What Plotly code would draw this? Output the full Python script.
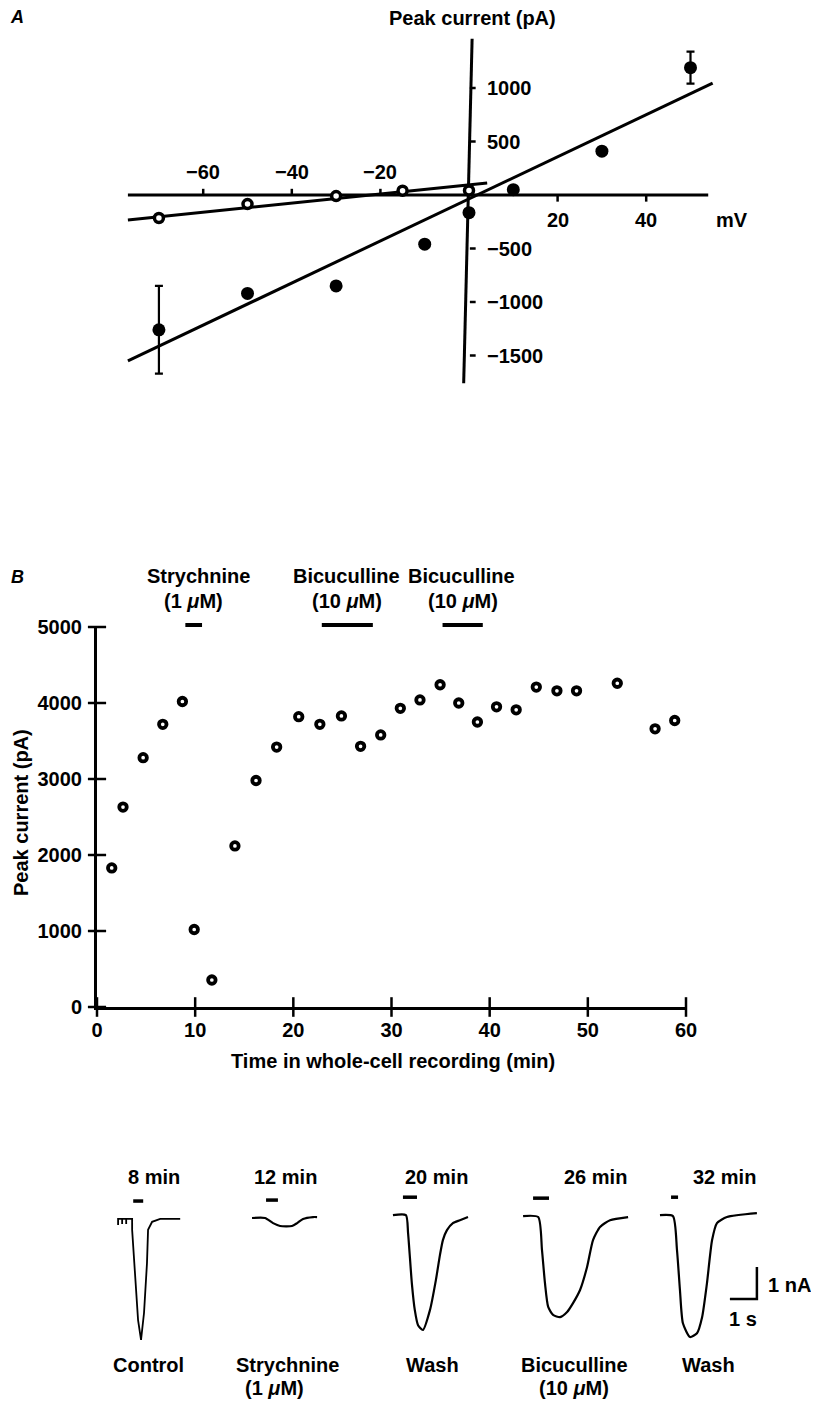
import plotly.graph_objects as go

FONT = "Liberation Sans, Arial, Helvetica, sans-serif"
W, H = 819, 1401          # target picture size
OFF = 8                   # page body margin around the plot div
FW, FH = W - OFF, H - OFF # figure size

# ---------------- Panel A: I-V relation ----------------
iv_mv_closed = [-70, -50, -30, -10, 0, 10, 30, 50]
iv_pa_closed = [-1260, -920, -850, -460, -165, 50, 410, 1190]
iv_err_closed = [410, 0, 0, 0, 0, 0, 0, 150]
iv_mv_open = [-70, -50, -30, -15, 0]
iv_pa_open = [-215, -85, -10, 40, 42]
fit_closed_mv = [-77, 55]
fit_closed_pa = [-1550, 1045]
fit_open_mv = [-77, 4.1]
fit_open_pa = [-234, 112]
a_xticks_neg = [-60, -40, -20]
a_xticks_pos = [20, 40]
a_yticks = [1000, 500, -500, -1000, -1500]
a_xaxis_span = [-77, 54]
a_yaxis_x = [0.7, -1.2]
a_yaxis_y = [1460, -1760]

# ---------------- Panel B: time course ----------------
t_min = [1.5, 2.65, 4.7, 6.7, 8.7, 9.9, 11.7, 14.05, 16.2, 18.3, 20.55, 22.7,
         24.9, 26.85, 28.9, 30.9, 32.9, 34.95, 36.85, 38.75, 40.7, 42.7, 44.75,
         46.85, 48.85, 53.0, 56.85, 58.85]
peak_pa = [1830, 2630, 3280, 3720, 4020, 1020, 355, 2120, 2980, 3420, 3820, 3720,
           3830, 3430, 3580, 3930, 4040, 4240, 4000, 3750, 3950, 3910, 4210,
           4160, 4160, 4260, 3660, 3770]
b_xticks = [0, 10, 20, 30, 40, 50, 60]
b_yticks = [0, 1000, 2000, 3000, 4000, 5000]
drug_names = ["Strychnine", "Bicuculline", "Bicuculline"]
drug_conc = ["(1 <i>μ</i>M)", "(10 <i>μ</i>M)", "(10 <i>μ</i>M)"]
drug_on_min = [9.0, 22.9, 35.2]
drug_off_min = [10.7, 28.1, 39.3]

# ---------------- Panel C: current traces (s, nA) ----------------
ctrl_t = [0, 0, 0, 0.15, 0.15, 0.15, 0.30, 0.30, 0.30, 0.52, 0.52, 0.74, 0.85,
          0.96, 1.07, 1.11, 1.26, 1.56, 2.30]
ctrl_i = [0, -0.19, 0, 0, -0.16, 0, 0, -0.16, 0, 0, -0.34, -3.16, -3.78,
          -2.94, -1.38, -0.34, -0.09, 0, 0]
strych_t = [0, 0.48, 0.78, 1.04, 1.48, 1.67, 1.89, 2.26, 2.41]
strych_i = [0, 0, -0.16, -0.25, -0.25, -0.16, -0.03, 0.03, 0.03]
wash1_t = [0, 0.48, 0.56, 0.70, 0.81, 0.93, 1.11, 1.37, 1.59, 1.74, 1.85, 2.0,
           2.22, 2.48, 2.78]
wash1_i = [0, 0, -0.56, -2.13, -2.97, -3.44, -3.59, -2.97, -2.03, -1.25, -0.78,
           -0.47, -0.25, -0.16, -0.06]
bicuc_t = [0, 0.56, 0.70, 0.81, 0.93, 1.11, 1.37, 1.63, 1.85, 2.11, 2.37, 2.59,
           2.85, 3.22, 3.89]
bicuc_i = [0, -0.03, -1.06, -2.09, -2.84, -3.09, -3.16, -3.0, -2.72, -2.31,
           -1.59, -0.75, -0.34, -0.13, -0.03]
wash2_t = [0, 0.48, 0.63, 0.74, 0.85, 1.11, 1.37, 1.56, 1.74, 1.93, 2.11, 2.48,
           3.59]
wash2_i = [0, -0.03, -1.09, -2.34, -3.38, -3.81, -3.69, -3.19, -2.13, -0.78,
           -0.25, -0.06, 0.06]
pulse_on_s = [0.56, 0.52, 0.37, 0.37, 0.41]
pulse_off_s = [0.93, 0.96, 0.89, 0.96, 0.67]
c_time_labels = ["8 min", "12 min", "20 min", "26 min", "32 min"]
c_cond_labels = ["Control", "Strychnine", "Wash", "Bicuculline", "Wash"]
c_cond_sub = ["", "(1 <i>μ</i>M)", "", "(10 <i>μ</i>M)", ""]
scalebar_s = 1.0
scalebar_nA = 1.0

# ---------------- layout / placement (not data) ----------------
c_offsets_s = [0.67, 5.63, 10.85, 15.67, 20.74]
c_baseline = [-0.03, 0.0, 0.09, 0.06, 0.09]
c_time_label_x = [2.0, 6.87, 12.48, 18.37, 23.13]
c_cond_x = [1.78, 6.96, 12.3, 17.59, 22.52]
c_sub_x = [1.78, 6.46, 12.3, 17.56, 22.52]
pulse_level = 0.56
scalebar_corner = (24.33, -2.53)

BLK = "black"
fig = go.Figure()


def pxx(px):
    """picture column -> paper x"""
    return (px - OFF) / FW


def py(pyx):
    """picture row -> paper y"""
    return 1 - (pyx - OFF) / FH


def ann(text, x, y, xref, yref, size=20, xanchor="center", **kw):
    fig.add_annotation(text=text, x=x, y=y, xref=xref, yref=yref, showarrow=False,
                       xanchor=xanchor, yanchor="middle",
                       font=dict(family=FONT, size=size, color=BLK, weight="bold"),
                       **kw)


# ---- Panel A ----
fig.add_trace(go.Scatter(x=a_xaxis_span, y=[0, 0], mode="lines",
                         line=dict(color=BLK, width=3), xaxis="x", yaxis="y"))
fig.add_trace(go.Scatter(x=a_yaxis_x, y=a_yaxis_y, mode="lines",
                         line=dict(color=BLK, width=3), xaxis="x", yaxis="y"))
tx, ty = [], []
for v in a_xticks_neg:
    tx += [v, v, None]; ty += [0, 58, None]
for v in a_xticks_pos:
    tx += [v, v, None]; ty += [0, -62, None]
for v in a_yticks:
    tx += [0.2, 1.5, None]; ty += [v, v, None]
fig.add_trace(go.Scatter(x=tx, y=ty, mode="lines", line=dict(color=BLK, width=2.5),
                         xaxis="x", yaxis="y"))
fig.add_trace(go.Scatter(x=fit_closed_mv, y=fit_closed_pa, mode="lines",
                         line=dict(color=BLK, width=3), xaxis="x", yaxis="y"))
fig.add_trace(go.Scatter(x=fit_open_mv, y=fit_open_pa, mode="lines",
                         line=dict(color=BLK, width=3), xaxis="x", yaxis="y"))
fig.add_trace(go.Scatter(x=iv_mv_open, y=iv_pa_open, mode="markers",
                         marker=dict(symbol="circle", size=9, color="white",
                                     line=dict(color=BLK, width=3.5)),
                         xaxis="x", yaxis="y", cliponaxis=False))
fig.add_trace(go.Scatter(x=iv_mv_closed, y=iv_pa_closed, mode="markers",
                         marker=dict(symbol="circle", size=13, color=BLK),
                         error_y=dict(type="data", array=iv_err_closed, visible=True,
                                      color=BLK, thickness=2.2, width=4),
                         xaxis="x", yaxis="y", cliponaxis=False))
for v in a_xticks_neg:
    ann(f"−{abs(v)}", v, 215, "x", "y")
for v in a_xticks_pos:
    ann(f"{v}", v, -234, "x", "y")
for v in a_yticks:
    ann(f"−{abs(v)}" if v < 0 else f"{v}", 3.6, v, "x", "y", xanchor="left")
ann("mV", 59.4, -234, "x", "y")
ann("Peak current (pA)", 0.7, py(18), "x", "paper")

# ---- Panel B ----
fig.add_trace(go.Scatter(x=t_min, y=peak_pa, mode="markers",
                         marker=dict(symbol="circle", size=7.5, color="white",
                                     line=dict(color=BLK, width=3.8)),
                         xaxis="x2", yaxis="y2", cliponaxis=False))
fig.add_trace(go.Scatter(x=b_xticks, y=[0] * len(b_xticks), mode="markers",
                         marker=dict(symbol="line-ns", size=14,
                                     line=dict(color=BLK, width=2.5)),
                         xaxis="x2", yaxis="y2", cliponaxis=False))
fig.add_trace(go.Scatter(x=[0] * len(b_yticks), y=b_yticks, mode="markers",
                         marker=dict(symbol="line-ew", size=13,
                                     line=dict(color=BLK, width=2.5)),
                         xaxis="x2", yaxis="y2", cliponaxis=False))
for name, conc, a, b in zip(drug_names, drug_conc, drug_on_min, drug_off_min):
    fig.add_shape(type="line", x0=a, x1=b, y0=py(625), y1=py(625), xref="x2",
                  yref="paper", line=dict(color=BLK, width=4))
    mid = (a + b) / 2
    ann(name, mid + 0.5 if name == "Strychnine" else mid - 0.1, py(576), "x2", "paper")
    ann(conc, mid, py(601), "x2", "paper")
ann("Peak current (pA)", pxx(21), py(813), "paper", "paper", textangle=-90)
ann("Time in whole-cell recording (min)", pxx(393), py(1061), "paper", "paper")

# ---- Panel C ----
traces = [(ctrl_t, ctrl_i, "linear", 1.8), (strych_t, strych_i, "spline", 2.2),
          (wash1_t, wash1_i, "spline", 2.2), (bicuc_t, bicuc_i, "spline", 2.2),
          (wash2_t, wash2_i, "spline", 2.2)]
for k, (tt, ii, shp, lw) in enumerate(traces):
    x0, y0 = c_offsets_s[k], c_baseline[k]
    fig.add_trace(go.Scatter(x=[x0 + t for t in tt], y=[y0 + i for i in ii],
                             mode="lines",
                             line=dict(color=BLK, width=lw, shape=shp,
                                       smoothing=0.6 if shp == "spline" else None),
                             xaxis="x3", yaxis="y3", cliponaxis=False))
px_, py_ = [], []
for k in range(5):
    x0, y0 = c_offsets_s[k], c_baseline[k]
    px_ += [x0 + pulse_on_s[k], x0 + pulse_off_s[k], None]
    py_ += [y0 + pulse_level, y0 + pulse_level, None]
fig.add_trace(go.Scatter(x=px_, y=py_, mode="lines", line=dict(color=BLK, width=3.5),
                         xaxis="x3", yaxis="y3", cliponaxis=False))
cx, cy = scalebar_corner
fig.add_trace(go.Scatter(x=[cx - scalebar_s, cx, cx], y=[cy, cy, cy + scalebar_nA],
                         mode="lines", line=dict(color=BLK, width=2.5),
                         xaxis="x3", yaxis="y3", cliponaxis=False))
for lab, x in zip(c_time_labels, c_time_label_x):
    ann(lab, x, 1.28, "x3", "y3")
for lab, sub, x, xs in zip(c_cond_labels, c_cond_sub, c_cond_x, c_sub_x):
    ann(lab, x, -4.59, "x3", "y3")
    if sub:
        ann(sub, xs, -5.31, "x3", "y3")
ann("1 nA", cx + 1.19, cy + scalebar_nA / 2 - 0.06, "x3", "y3")
ann("1 s", cx - scalebar_s / 2, cy - 0.63, "x3", "y3")

# panel letters
for letter, ypx in (("A", 17), ("B", 577)):
    fig.add_annotation(text=letter, x=pxx(17), y=py(ypx), xref="paper", yref="paper",
                       showarrow=False, xanchor="center", yanchor="middle",
                       font=dict(family=FONT, size=18, color=BLK, weight="bold",
                                 style="italic"))

hidden = dict(visible=False, showgrid=False, zeroline=False)
fig.update_layout(
    width=FW, height=FH, autosize=False, showlegend=False,
    margin=dict(l=0, r=0, t=0, b=0, pad=0, autoexpand=False),
    paper_bgcolor="white", plot_bgcolor="rgba(0,0,0,0)",
    font=dict(family=FONT, size=20, color=BLK),
    xaxis=dict(domain=[pxx(100), pxx(760)], range=[-83.30, 65.69], anchor="y", **hidden),
    yaxis=dict(domain=[py(400), py(30)], range=[-1915.9, 1542.1], anchor="x",
               **hidden),
    xaxis2=dict(domain=[pxx(97), pxx(686)], range=[0, 60], anchor="y2",
                showline=True, linewidth=3, linecolor=BLK, ticks="",
                tickvals=b_xticks, showgrid=False, zeroline=False,
                tickfont=dict(family=FONT, size=20, color=BLK, weight="bold"),
                ticklabelstandoff=3),
    yaxis2=dict(domain=[py(1007), py(627)], range=[0, 5000], anchor="x2",
                showline=True, linewidth=3, linecolor=BLK, ticks="",
                tickvals=b_yticks, showgrid=False, zeroline=False,
                tickfont=dict(family=FONT, size=20, color=BLK, weight="bold"),
                ticklabelstandoff=8),
    xaxis3=dict(domain=[pxx(100), 1.0], range=[0, 26.63], anchor="y3", **hidden),
    yaxis3=dict(domain=[0, py(1160)], range=[-5.719, 1.8125], anchor="x3", **hidden),
)

fig.write_html("out.html")
